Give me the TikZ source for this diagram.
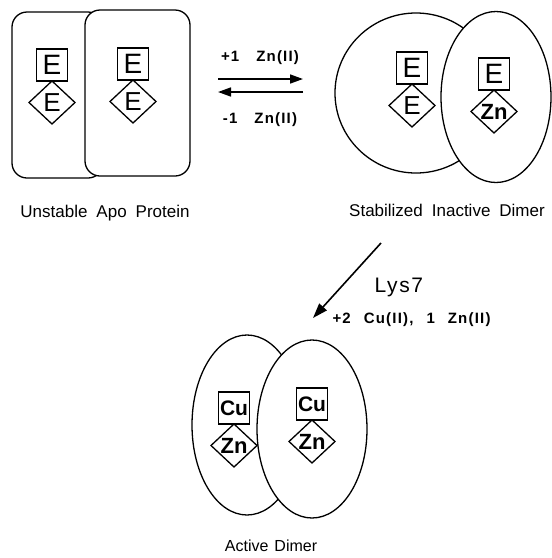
\documentclass[tikz,border=0pt]{standalone}
\usepackage{fontspec}
\setmainfont{Liberation Sans}
\newfontfamily\spacedfont[LetterSpace=8]{Liberation Sans}
\usetikzlibrary{arrows.meta}
\usetikzlibrary{positioning}
\usetikzlibrary{shapes.geometric}

\tikzset{
  metal/.style={draw, rectangle, line width=1.3pt, minimum width=31pt, minimum height=32pt,
    inner sep=0pt, outer sep=0pt, font=\fontsize{28}{28}\selectfont},
  ligand/.style={draw, diamond, line width=1.3pt, minimum width=46pt, minimum height=43pt,
    inner sep=0pt, outer sep=0pt, font=\fontsize{26}{26}\selectfont},
  subunit/.style={draw, fill=white, line width=1.3pt, inner sep=0pt},
  rxnarrow/.style={line width=1.6pt, -{Triangle[length=13pt,width=9pt]}},
  caption/.style={font=\fontsize{17}{17}\selectfont, anchor=base},
  cond/.style={font=\spacedfont\bfseries\fontsize{15}{15}\selectfont, anchor=base},
  znsite/.style={font=\bfseries\fontsize{22}{22}\selectfont},
  cusite/.style={font=\bfseries\fontsize{21}{21}\selectfont},
}

\begin{document}
\begin{tikzpicture}[x=1pt,y=-1pt]
  \useasboundingbox (0,0) rectangle (552,558);

  % apo protein: two overlapping boxes
  \node[subunit, rounded corners=15pt, minimum width=91pt, minimum height=166pt] (apoA) at (57.5,95) {};
  \node[subunit, rounded corners=15pt, minimum width=105pt, minimum height=166pt] (apoB) at (137.5,93) {};
  \node[metal] (apoAcu) at (52,65) {E};
  \node[ligand, below=0pt of apoAcu] (apoAzn) {E};
  \node[metal] (apoBcu) at (133,64) {E};
  \node[ligand, below=0pt of apoBcu] (apoBzn) {E};
  \node[caption] (apolbl) at (105,217) {Unstable\hspace{9pt}Apo\hspace{9pt}Protein};

  % one zinc bound
  \coordinate (fwdS) at (218,79);
  \coordinate (fwdE) at (303,79);
  \coordinate (revS) at (303,92);
  \coordinate (revE) at (218,92);
  \draw[rxnarrow] (fwdS) -- (fwdE);
  \draw[rxnarrow] (revS) -- (revE);
  \node[cond] (znon) at (260,61) {+1\hspace{17pt}Zn(II)};
  \node[cond] (znoff) at (260,123) {-1\hspace{17pt}Zn(II)};

  % inactive dimer
  \node[subunit, ellipse, minimum width=162pt, minimum height=160pt] (inA) at (416,93) {};
  \node[subunit, ellipse, minimum width=110pt, minimum height=171pt] (inB) at (496,97) {};
  \node[metal] (inAcu) at (412,68) {E};
  \node[ligand, below=0pt of inAcu] (inAzn) {E};
  \node[metal] (inBcu) at (494,74) {E};
  \node[ligand, znsite, below=0pt of inBcu] (inBzn) {Zn};
  \node[caption] (inlbl) at (447,216) {Stabilized\hspace{9pt}Inactive\hspace{9pt}Dimer};

  % metallation by the chaperone
  \coordinate (actS) at (381,243);
  \coordinate (actE) at (313,318);
  \draw[rxnarrow, -{Triangle[length=15pt,width=10pt]}] (actS) -- (actE);
  \node[font=\spacedfont\fontsize{21}{21}\selectfont, anchor=base west] (lys) at (371,292) {Lys7};
  \node[cond, anchor=base west] (cuzn) at (329,323) {+2\hspace{13pt}Cu(II),\hspace{13pt}1\hspace{13pt}Zn(II)};

  % active dimer
  \node[subunit, ellipse, minimum width=110pt, minimum height=180pt] (acA) at (247,425) {};
  \node[subunit, ellipse, minimum width=110pt, minimum height=178pt] (acB) at (312,429) {};
  \node[metal, cusite] (acAcu) at (234,408) {Cu};
  \node[ligand, znsite, below=0pt of acAcu] (acAzn) {Zn};
  \node[metal, cusite] (acBcu) at (312,404) {Cu};
  \node[ligand, znsite, below=0pt of acBcu] (acBzn) {Zn};
  \node[caption, font=\fontsize{16}{16}\selectfont] (aclbl) at (271,551) {Active\hspace{6pt}Dimer};
\end{tikzpicture}
\end{document}
